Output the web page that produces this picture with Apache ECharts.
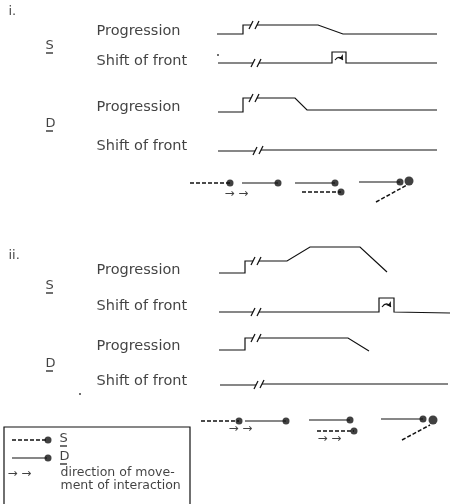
<!DOCTYPE html>
<html>
<head>
<meta charset="utf-8">
<style>html,body{margin:0;padding:0;background:#fff;}#c{width:451px;height:504px;}</style>
<script src="https://cdn.jsdelivr.net/npm/echarts@6/dist/echarts.min.js"></script>
</head>
<body>
<div id="c"></div>
<script>
// ---- schematic data (x, y in drawing units; y grows downward) ----
// Panel i traces: [before break], [after break]
const sProgI_a  = [[217,34],[243,34],[243,25],[251,25]];
const sProgI_b  = [[257,25],[318,25],[343,34],[437,34]];
const sShiftI_a = [[218,63],[253,63]];
const sShiftI_b = [[259,63],[332,63],[332,52],[346,52],[346,63],[437,63]];
const dProgI_a  = [[218,112],[243,112],[243,98],[251,98]];
const dProgI_b  = [[257,98],[295,98],[307,110],[437,110]];
const dShiftI_a = [[218,151],[255,151]];
const dShiftI_b = [[261,150],[437,150]];
// Panel ii traces
const sProgII_a  = [[219,273],[245,273],[245,261],[253,261]];
const sProgII_b  = [[259,261],[287,261],[310,247],[360,247],[387,272]];
const sShiftII_a = [[219,312],[253,312]];
const sShiftII_b = [[259,312],[379,312],[379,298],[394,298],[394,312],[450,313]];
const dProgII_a  = [[219,350],[245,350],[245,338],[253,338]];
const dProgII_b  = [[259,338],[348,338],[369,351]];
const dShiftII_a = [[220,385],[256,385]];
const dShiftII_b = [[262,384],[448,384]];
// break marks "//" : each pair of slash centres
const breakMarks = [[251,25],[257,25],[253,63],[259,63],[251,98],[257,98],[255,151],[261,150],
                    [253,261],[259,261],[253,312],[259,312],[253,338],[259,338],[256,385],[262,384]];
// curved arrows inside the pulses
const pulseArcs = [[[335,60],[343,60]],[[382,307],[391,307]]];
// interaction sketches (S = dashed, D = solid)
const sketchSolid  = [[[242,183],[278,183]],[[295,183],[335,183]],[[359,182],[400,182]],
                      [[245,421],[286,421]],[[309,420],[350,420]],[[381,419],[423,419]],
                      [[12,458],[47,458]]];
const sketchDashed = [[[190,183],[230,183]],[[302,192],[341,192]],[[376,202],[407,185]],
                      [[201,421],[239,421]],[[317,431],[354,431]],[[402,440],[430,425]],
                      [[12,440],[47,440]]];
const sketchDots   = [[230,183],[278,183],[335,183],[341,192],[400,182],
                      [239,421],[286,421],[350,420],[354,431],[423,419],
                      [48,440],[48,458]];
const sketchBigDots = [[409,181],[433,420]];
const specks = [[218,55],[80,394]];
// legend frame
const legendFrame = [[4,504],[4,427],[190,427],[190,504]];
// underlines of S / D labels
const underlines = [[[46,53],[53,53]],[[46,131],[53,131]],[[46,293],[53,293]],[[46,371],[53,371]],
                    [[60,446],[67,446]],[[60,464],[67,464]]];
// texts
const labelTexts = [
  ['i.',9,12,13],['Progression',97,32,14.5],['S',46,46,13],['Shift of front',97,62,14.5],
  ['Progression',97,108,14.5],['D',46,124,13],['Shift of front',97,147,14.5],
  ['ii.',9,256,13],['Progression',97,271,14.5],['S',46,286,13],['Shift of front',97,307,14.5],
  ['Progression',97,347,14.5],['D',46,364,13],['Shift of front',97,382,14.5],
  ['S',60,439,13],['D',60,457,13],['direction of move-',61,473,12.5],['ment of interaction',61,486,12.5]
];
const arrowTexts = [[225,194],[229,429],[318,439],[8,474]];

// ---- build ----
const solidPaths = [sProgI_a,sProgI_b,sShiftI_a,sShiftI_b,dProgI_a,dProgI_b,dShiftI_a,dShiftI_b,
  sProgII_a,sProgII_b,sShiftII_a,sShiftII_b,dProgII_a,dProgII_b,dShiftII_a,dShiftII_b,
  legendFrame].concat(sketchSolid, underlines);
breakMarks.forEach(function(p){ solidPaths.push([[p[0]-2,p[1]+4],[p[0]+2,p[1]-4]]); });

const INK = '#111';
const CLEAR = 'rgba(0,0,0,0)';
const chart = echarts.init(document.getElementById('c'));
chart.setOption({
  animation:false,
  grid:{left:0,right:0,top:0,bottom:0},
  xAxis:{type:'value',min:0,max:451,show:false},
  yAxis:{type:'value',min:0,max:504,inverse:true,show:false},
  series:[
    {type:'lines',coordinateSystem:'cartesian2d',polyline:true,silent:true,
     lineStyle:{color:INK,width:1.2,opacity:1},
     data:solidPaths.map(function(p){return {coords:p};})},
    {type:'lines',coordinateSystem:'cartesian2d',polyline:true,silent:true,
     lineStyle:{color:INK,width:1.5,type:[4,2],opacity:1},
     data:sketchDashed.map(function(p){return {coords:p};})},
    {type:'lines',coordinateSystem:'cartesian2d',silent:true,
     symbol:['none','arrow'],symbolSize:5,
     lineStyle:{color:INK,width:1.1,curveness:0.7,opacity:1},
     data:pulseArcs.map(function(p){return {coords:p};})},
    {type:'scatter',symbolSize:7,itemStyle:{color:INK},silent:true,data:sketchDots},
    {type:'scatter',symbolSize:9,itemStyle:{color:INK},silent:true,data:sketchBigDots},
    {type:'scatter',symbolSize:2,itemStyle:{color:INK},silent:true,data:specks},
    {type:'scatter',symbolSize:1,itemStyle:{color:CLEAR},silent:true,
     data:labelTexts.map(function(t){return {value:[t[1],t[2]],name:t[0],
       label:{show:true,position:[0,0],align:'left',verticalAlign:'middle',
         formatter:t[0],fontSize:t[3],color:'#111',fontFamily:'DejaVu Sans'}};})},
    {type:'scatter',symbolSize:1,itemStyle:{color:CLEAR},silent:true,
     data:arrowTexts.map(function(t){return {value:t,
       label:{show:true,position:[0,0],align:'left',verticalAlign:'middle',
         formatter:'\u2192 \u2192',fontSize:12,color:INK,fontFamily:'DejaVu Sans'}};})}
  ]
});
</script>
</body>
</html>
